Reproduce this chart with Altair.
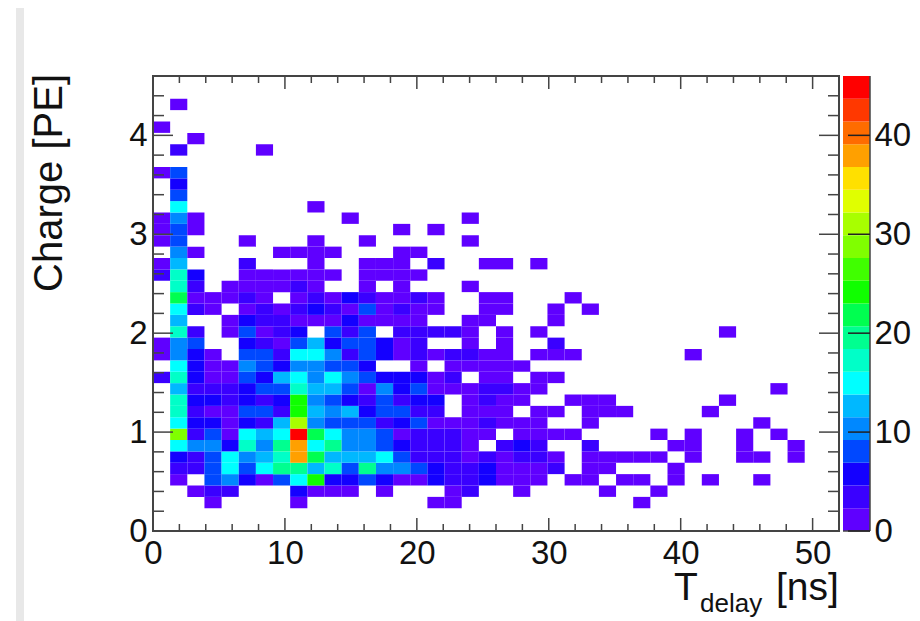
import altair as alt
import pandas as pd

# counts per Charge row (row index from bottom), listed by Tdelay column
ROWS = {
 2: [0,0,0,1,0,0,0,0,1,0,0,0,0,0,0,0,1,1,0,0,0,0,0,0,0,0,0,0,1],
 3: [0,0,1,3,3,0,0,0,5,1,1,1,0,1,0,0,0,1,3,0,0,1,0,0,0,0,1,0,0,1],
 4: [0,1,0,8,10,5,1,8,15,24,5,5,8,5,1,1,5,3,3,5,1,1,1,0,1,1,0,1,1,0,1,0,1,0,0,1],
 5: [0,3,3,8,15,8,15,20,20,13,17,8,20,10,10,8,5,3,3,5,1,1,1,3,0,1,1,0,0,0,1],
 6: [0,5,3,8,15,10,13,17,38,22,13,13,13,15,8,3,3,3,1,3,1,3,3,1,0,1,1,1,1,1,0,1,0,0,1,1,0,1],
 7: [0,15,10,10,5,17,10,20,38,15,20,10,10,8,5,3,3,3,1,0,3,5,3,0,0,3,0,0,0,0,1,1,0,0,1,0,0,1],
 8: [0,28,3,8,1,15,13,15,45,22,15,10,10,8,1,3,3,3,1,1,0,1,1,1,1,0,0,0,0,1,0,1,0,0,1,0,1],
 9: [0,15,5,5,1,5,3,13,31,10,8,8,8,3,5,8,1,1,1,3,1,1,1,0,0,1,0,0,0,0,0,0,0,0,0,1],
 10: [0,17,3,1,1,8,8,3,24,13,10,13,5,8,8,3,3,0,1,1,1,0,1,1,0,1,1,1,0,0,0,0,1],
 11: [0,17,5,5,3,5,3,5,24,10,8,5,3,8,3,5,5,0,1,3,1,1,0,0,1,1,1,0,0,0,0,0,0,1],
 12: [0,13,3,3,3,5,8,8,17,13,13,8,1,10,5,8,1,1,1,3,3,1,1,0,0,0,0,0,0,0,0,0,0,0,0,0,1],
 13: [3,17,5,1,1,8,5,13,15,10,15,10,8,5,5,5,1,3,0,1,1,0,1,1],
 14: [0,15,5,1,1,10,8,5,10,10,8,8,5,0,0,1,0,1,1,1,1,1],
 15: [1,10,5,1,0,8,8,3,15,15,10,3,8,5,1,3,1,3,3,1,1,0,1,1,1,0,0,0,0,0,0,1],
 16: [1,10,8,0,0,5,3,1,8,13,5,8,8,5,1,3,0,0,1,0,1,0,0,3],
 17: [0,17,3,0,1,8,1,3,5,0,8,3,8,0,3,3,3,3,1,0,1,0,1,0,0,0,0,0,0,0,0,0,0,1],
 18: [0,13,0,0,1,5,3,3,1,1,1,5,1,1,1,1,0,0,1,1,0,0,0,1],
 19: [0,15,3,1,0,1,3,1,3,5,3,1,8,1,3,1,1,0,0,1,1,0,0,1,0,1],
 20: [0,22,1,1,1,3,1,0,1,3,1,5,3,1,1,3,1,0,0,1,1,0,0,0,1],
 21: [0,17,3,0,1,1,1,1,3,1,0,0,1,0,1,0,0,0,1],
 22: [3,17,5,0,0,1,1,1,1,1,1,0,1,1,1,1],
 23: [1,13,0,0,0,3,0,0,0,1,0,0,1,1,1,0,3,0,0,1,1,0,1],
 24: [0,10,1,0,0,0,0,1,1,1,1,0,0,0,1,1],
 25: [1,8,0,0,0,1,0,0,0,1,0,0,1,0,0,0,0,0,1],
 26: [1,8,1,0,0,0,0,0,0,0,0,0,0,0,1,0,1],
 27: [1,10,1,0,0,0,0,0,0,0,0,1,0,0,0,0,0,0,1],
 28: [0,15,0,0,0,0,0,0,0,1],
 29: [0,8],
 30: [0,5],
 31: [1,8],
 33: [0,3,0,0,0,0,1],
 34: [0,0,1],
 35: [1],
 37: [0,1],
}
X_BIN = 1.3
Y_BIN = 0.115
LEVELS = [0,2.3,4.6,6.9,9.2,11.5,13.8,16.1,18.4,20.7,23,25.3,27.6,29.9,32.2,34.5,36.8,39.1,41.4,43.7,46]
PALETTE = ["#5f00ff","#3a00ff","#1400ff","#0048ff","#0088ff","#00b8ff","#00ffff","#00ffc8","#00ff90",
           "#00ff50","#10ff00","#40ff00","#80ff00","#a8ff00","#e0ff00","#ffe000","#ffa000","#ff6c00","#ff3800","#ff0000"]
X_MAJOR = [0,10,20,30,40,50]
X_MINOR = [2,4,6,8,12,14,16,18,22,24,26,28,32,34,36,38,42,44,46,48,52]
Y_MAJOR = [0,1,2,3,4]
Y_MINOR = [0.2,0.4,0.6,0.8,1.2,1.4,1.6,1.8,2.2,2.4,2.6,2.8,3.2,3.4,3.6,3.8,4.2,4.4]
Z_MAJOR = [0,10,20,30,40]

W, H = 686, 455
FONT = "Liberation Sans"
FRAME = "#444444"
TXT = "#111111"

cells = []
for r, vals in ROWS.items():
    for c, v in enumerate(vals):
        if v:
            cells.append({"x0": c*X_BIN, "x1": (c+1)*X_BIN, "y0": r*Y_BIN, "y1": (r+1)*Y_BIN, "n": v})
cells = pd.DataFrame(cells)
bands = pd.DataFrame({"lo": LEVELS[:-1], "hi": LEVELS[1:]})
bands["mid"] = (bands.lo + bands.hi) / 2

xs = alt.Scale(domain=[0, 52], nice=False, zero=False)
ys = alt.Scale(domain=[0, 4.6], nice=False, zero=False)
zs = alt.Scale(domain=[0, 46], nice=False, zero=False)
cs = alt.Scale(type="threshold", domain=LEVELS[1:-1], range=PALETTE)

heat = alt.Chart(cells).mark_rect(stroke=None).encode(
    x=alt.X("x0:Q", scale=xs, title=None,
            axis=alt.Axis(values=X_MAJOR, tickSize=0, domain=False, grid=False, labelFont=FONT,
                          labelFontSize=33, labelColor=TXT, labelPadding=6, labelFlush=False, format="d")),
    x2="x1:Q",
    y=alt.Y("y0:Q", scale=ys, title=None,
            axis=alt.Axis(values=Y_MAJOR, tickSize=0, domain=False, grid=False, labelFont=FONT,
                          labelFontSize=33, labelColor=TXT, labelPadding=6, labelFlush=False, format="d")),
    y2="y1:Q",
    color=alt.Color("n:Q", scale=cs, legend=None),
)

def df(v):
    return pd.DataFrame({"v": v})

def xticks(vals, a, b):
    return alt.Chart(df(vals)).mark_rule(color=FRAME, strokeWidth=1.5).encode(
        x=alt.X("v:Q", scale=xs, axis=None), y=alt.value(a), y2=alt.value(b))

def yticks(vals, a, b):
    return alt.Chart(df(vals)).mark_rule(color=FRAME, strokeWidth=1.5).encode(
        y=alt.Y("v:Q", scale=ys, axis=None), x=alt.value(a), x2=alt.value(b))

frame = alt.Chart(df([0])).mark_rect(fillOpacity=0, stroke=FRAME, strokeWidth=2).encode(
    x=alt.value(0), x2=alt.value(W), y=alt.value(0), y2=alt.value(H))

bar = alt.Chart(bands).mark_rect().encode(
    x=alt.value(690), x2=alt.value(717),
    y=alt.Y("lo:Q", scale=zs, title=None,
            axis=alt.Axis(orient="right", offset=31, values=Z_MAJOR, tickSize=0, domain=False, grid=False,
                          labelFont=FONT, labelFontSize=33, labelColor=TXT, labelPadding=4,
                          labelFlush=False, format="d")),
    y2="hi:Q",
    color=alt.Color("mid:Q", scale=cs, legend=None),
)
bar_edge = alt.Chart(df([0])).mark_rect(fillOpacity=0, stroke=FRAME, strokeWidth=1.5).encode(
    x=alt.value(717), x2=alt.value(717), y=alt.value(0), y2=alt.value(H))
bar_base = alt.Chart(df([0])).mark_rule(color=FRAME, strokeWidth=1.5).encode(
    x=alt.value(690), x2=alt.value(717), y=alt.Y("v:Q", scale=zs, axis=None))
bar_ticks = alt.Chart(df(Z_MAJOR)).mark_rule(color="#222222", strokeWidth=1.5).encode(
    y=alt.Y("v:Q", scale=zs, axis=None), x=alt.value(695), x2=alt.value(717))

strip = alt.Chart(df([0])).mark_rect(color="#e8e8e8").encode(
    x=alt.value(-137), x2=alt.value(-129), y=alt.value(-68), y2=alt.value(545))

def label(text, x, y, size, **kw):
    return alt.Chart(pd.DataFrame({"t": [text]})).mark_text(
        font=FONT, fontSize=size, color=TXT, **kw
    ).encode(text="t:N", x=alt.value(x), y=alt.value(y))

titles = [
    label("Charge [PE]", -91, -2, 40, angle=270, align="right", baseline="alphabetic"),
    label("T", 521, 524, 39, align="left", baseline="alphabetic"),
    label("delay", 547, 536, 26, align="left", baseline="alphabetic"),
    label("[ns]", 623, 524, 39, align="left", baseline="alphabetic"),
]

chart = alt.layer(
    strip, heat, frame,
    xticks(X_MAJOR, H, H-13), xticks(X_MINOR, H, H-7),
    xticks(X_MAJOR, 0, 13), xticks(X_MINOR, 0, 7),
    yticks(Y_MAJOR, 0, 20), yticks(Y_MINOR, 0, 11),
    yticks(Y_MAJOR, W, W-20), yticks(Y_MINOR, W, W-11),
    bar, bar_edge, bar_base, bar_ticks, *titles,
).resolve_scale(y="independent", color="shared").resolve_axis(x="independent").properties(
    width=W, height=H,
    padding={"left": 145, "top": 68, "right": 73, "bottom": 90},
    autosize=alt.AutoSizeParams(type="none"),
).configure_view(stroke=None).configure(background="white")

chart.save("out.html", embed_options={"renderer": "svg", "actions": False})
